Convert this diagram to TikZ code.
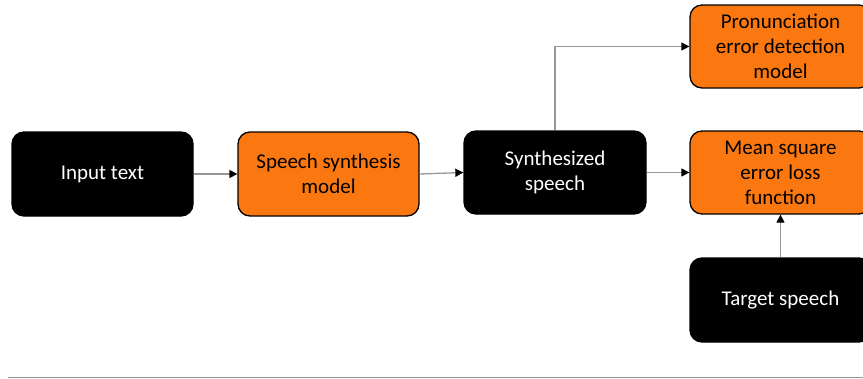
\documentclass[tikz,border=0pt]{standalone}
\usepackage{fontspec}
\setmainfont{Carlito}
\usetikzlibrary{arrows.meta}
\definecolor{boxorange}{RGB}{250,120,15}
\definecolor{linegray}{RGB}{150,150,150}
\begin{document}
\begin{tikzpicture}[x=1pt,y=-1pt,
  boxbase/.style={rounded corners=12pt, minimum width=181pt, minimum height=84pt, align=center, inner sep=2pt, font=\fontsize{21}{25}\selectfont, line width=1.3pt},
  blkbox/.style={boxbase, fill=black, draw=black, text=white},
  orgbox/.style={boxbase, fill=boxorange, draw=black, text=black},
  conn/.style={draw=linegray, line width=1.3pt, -{Triangle[length=8pt,width=8pt,color=black]}}]
\useasboundingbox (0,0) rectangle (863,378);
\clip (0,0) rectangle (863,378);
\node[blkbox] (in) at (102.5,174) {\raisebox{-2pt}{Input text}};
\node[orgbox] (ssm) at (328.5,174) {Speech synthesis\\model};
\node[blkbox, minimum width=182pt, minimum height=83pt] (syn) at (555,172.5) {Synthesized\\speech};
\node[orgbox, minimum height=83pt] (pron) at (780.5,46.5) {Pronunciation\\error detection\\model};
\node[orgbox, minimum height=83pt] (mse) at (780.5,172.5) {Mean square\\error loss\\function};
\node[blkbox] (tgt) at (780.5,300) {\raisebox{-2pt}{Target speech}};
\draw[conn] (in.east) -- (ssm.west);
\draw[conn] (ssm.east) -- (syn.west);
\draw[conn] (syn.east) -- (mse.west);
\draw[conn] (syn.north) |- (pron.west);
\draw[conn] (tgt.north) -- (mse.south);
\coordinate (la) at (8,377);
\coordinate (lb) at (863,377);
\draw[linegray, line width=1pt] (la) -- (lb);
\end{tikzpicture}
\end{document}
